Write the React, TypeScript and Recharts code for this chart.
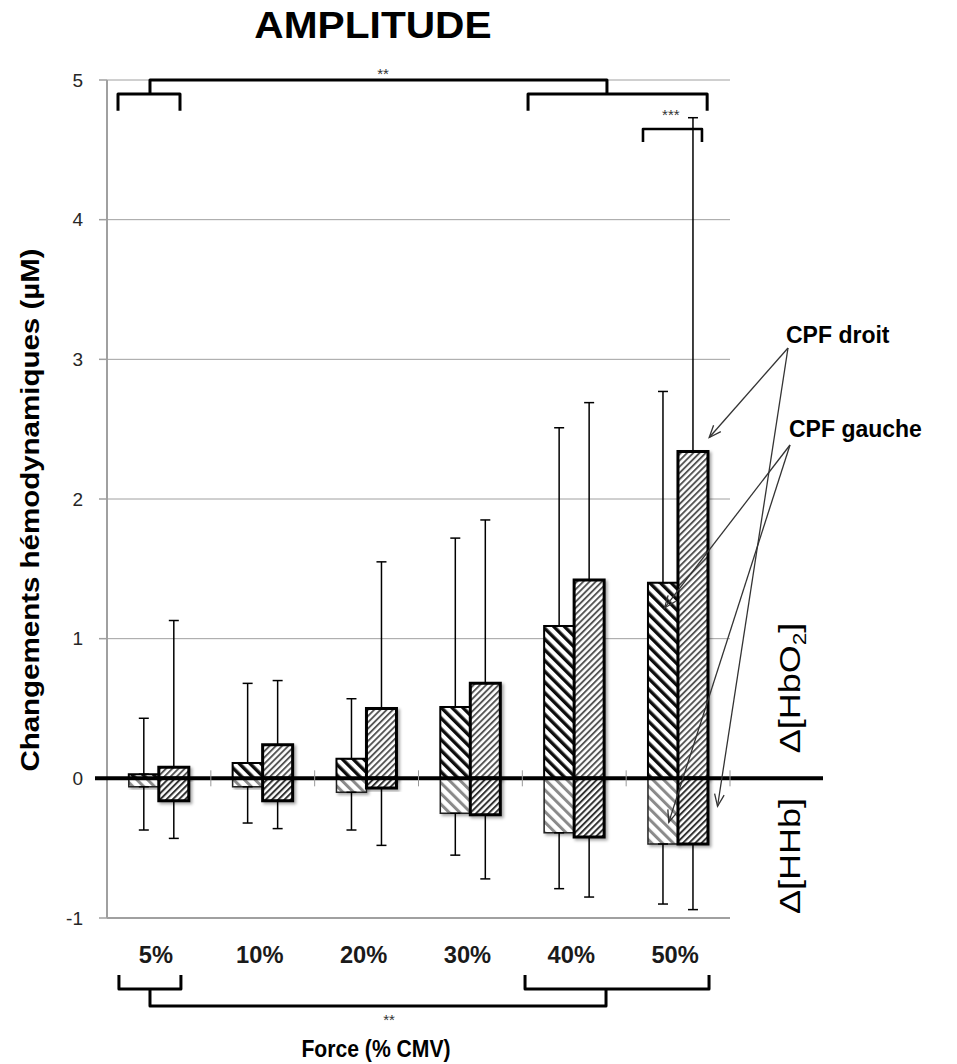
import React from 'react';
import { BarChart, Bar, XAxis, YAxis, CartesianGrid, ErrorBar } from 'recharts';

// ---------- data ----------
const categories = ['5%', '10%', '20%', '30%', '40%', '50%'];
const gaucheHbO2 = [0.03, 0.11, 0.14, 0.51, 1.09, 1.40];
const gaucheHHb = [-0.06, -0.06, -0.10, -0.25, -0.39, -0.47];
const droitHbO2 = [0.08, 0.24, 0.50, 0.68, 1.42, 2.34];
const droitHHb = [-0.16, -0.16, -0.07, -0.26, -0.42, -0.47];
const gaucheUpper = [0.43, 0.68, 0.57, 1.72, 2.51, 2.77];
const gaucheLower = [-0.37, -0.32, -0.37, -0.55, -0.79, -0.90];
const droitUpper = [1.13, 0.70, 1.55, 1.85, 2.69, 4.73];
const droitLower = [-0.43, -0.36, -0.48, -0.72, -0.85, -0.94];
const yTicks = [-1, 0, 1, 2, 3, 4, 5];
const Y_MIN = -1;
const Y_MAX = 5;

const data = categories.map((cat, i) => ({
  cat,
  gH: gaucheHbO2[i],
  gL: gaucheHHb[i],
  dH: droitHbO2[i],
  dL: droitHHb[i],
  gHErr: [0, gaucheUpper[i] - gaucheHbO2[i]],
  gLErr: [gaucheHHb[i] - gaucheLower[i], 0],
  dHErr: [0, droitUpper[i] - droitHbO2[i]],
  dLErr: [droitHHb[i] - droitLower[i], 0],
}));

// ---------- layout ----------
const W = 957;
const H = 1064;
const MARGIN = { top: 80, right: 227, bottom: 116, left: 0 };
const YW = 107;
const XH = 30;
const PL = MARGIN.left + YW;
const PR = W - MARGIN.right;
const PT = MARGIN.top;
const PB = H - MARGIN.bottom - XH;
const FONT = "'Liberation Sans', Arial, sans-serif";

const bx = (f: number) => PL + (f * (PR - PL)) / categories.length;
const vy = (v: number) => PT + ((Y_MAX - v) / (Y_MAX - Y_MIN)) * (PB - PT);

function SText(props: any) {
  const { x, y, size, weight = 'normal', sx = 1, anchor = 'middle', rot = 0, fill = '#000', dy, children } = props;
  return (
    <text
      transform={`translate(${x},${y}) rotate(${rot}) scale(${sx},1)`}
      fontSize={size}
      fontWeight={weight}
      textAnchor={anchor}
      fill={fill}
      fontFamily={FONT}
      dy={dy}
    >
      {children}
    </text>
  );
}

function Arrow({ x1, y1, x2, y2 }: any) {
  const ang = Math.atan2(y2 - y1, x2 - x1);
  const L = 13;
  const a = 0.38;
  const p1 = `${x2 - L * Math.cos(ang - a)},${y2 - L * Math.sin(ang - a)}`;
  const p2 = `${x2 - L * Math.cos(ang + a)},${y2 - L * Math.sin(ang + a)}`;
  return (
    <g stroke="#333" strokeWidth={1.3} fill="none">
      <line x1={x1} y1={y1} x2={x2} y2={y2} />
      <polyline points={`${p1} ${x2},${y2} ${p2}`} />
    </g>
  );
}

function Patterns() {
  return (
    <defs>
      <pattern id="pG" patternUnits="userSpaceOnUse" width="7.6" height="7.6" patternTransform="rotate(-45)">
        <rect width="7.6" height="7.6" fill="#fff" />
        <rect x="0" y="0" width="3.4" height="7.6" fill="#111" />
      </pattern>
      <pattern id="pGl" patternUnits="userSpaceOnUse" width="7.6" height="7.6" patternTransform="rotate(-45)">
        <rect width="7.6" height="7.6" fill="#fff" />
        <rect x="0" y="0" width="3" height="7.6" fill="#8a8a8a" />
      </pattern>
      <pattern id="pD" patternUnits="userSpaceOnUse" width="4.4" height="4.4" patternTransform="rotate(45)">
        <rect width="4.4" height="4.4" fill="#fff" />
        <rect x="0" y="0" width="1.9" height="4.4" fill="#555" />
      </pattern>
      <pattern id="pDl" patternUnits="userSpaceOnUse" width="4.4" height="4.4" patternTransform="rotate(45)">
        <rect width="4.4" height="4.4" fill="#fff" />
        <rect x="0" y="0" width="2" height="4.4" fill="#333" />
      </pattern>
      <filter id="shadow" x="-20%" y="-20%" width="150%" height="150%">
        <feDropShadow dx="2" dy="2" stdDeviation="1.6" floodColor="#000" floodOpacity="0.35" />
      </filter>
    </defs>
  );
}

function Annotations() {
  const yb1 = PB + 57;
  const yb2 = PB + 71;
  const yb3 = PB + 88;
  const droitO = { x: 788, y: 348 };
  const gaucheO = { x: 790, y: 445 };
  return (
    <svg width={W} height={H} style={{ position: 'absolute', left: 0, top: 0, pointerEvents: 'none' }}>
      {/* zero line */}
      <line x1={PL - 12} y1={vy(0)} x2={PR + 93} y2={vy(0)} stroke="#000" strokeWidth={4} />
      {categories.map((c, i) => (
        <line key={c} x1={bx(i + 1)} x2={bx(i + 1)} y1={vy(0) - 8} y2={vy(0) + 8} stroke="#999" strokeWidth={1} />
      ))}

      {/* top brackets */}
      <g stroke="#000" strokeWidth={3} fill="none" strokeLinejoin="round">
        <path d={`M${bx(0.106)},${vy(4.78)} V${vy(4.9)} H${bx(0.703)} V${vy(4.78)}`} />
        <path d={`M${bx(4.055)},${vy(4.78)} V${vy(4.9)} H${bx(5.78)} V${vy(4.78)}`} />
        <path d={`M${bx(0.414)},${vy(4.9)} V${vy(5)} H${bx(4.815)} V${vy(4.9)}`} />
        <path strokeWidth={2.6} d={`M${bx(5.162)},${vy(4.556)} V${vy(4.649)} H${bx(5.73)} V${vy(4.556)}`} />
      </g>
      <SText x={383} y={79} size={15} fill="#333">**</SText>
      <SText x={bx(5.43)} y={120} size={15} fill="#333">***</SText>

      {/* bottom brackets */}
      <g stroke="#000" strokeWidth={3} fill="none" strokeLinejoin="round">
        <path d={`M${bx(0.115)},${yb1} V${yb2} H${bx(0.712)} V${yb1}`} />
        <path d={`M${bx(4.026)},${yb1} V${yb2} H${bx(5.798)} V${yb1}`} />
        <path d={`M${bx(0.414)},${yb2} V${yb3} H${bx(4.806)} V${yb2}`} />
      </g>
      <SText x={389} y={1025} size={15} fill="#333">**</SText>

      {/* titles */}
      <SText x={373} y={38} size={36} weight="bold" sx={1.13}>AMPLITUDE</SText>
      <SText x={376} y={1057} size={23.5} weight="bold" sx={0.9}>Force (% CMV)</SText>
      <SText x={30} y={510} size={25} weight="bold" sx={1.18} rot={-90} dy="0.35em">
        Changements hémodynamiques (µM)
      </SText>

      {/* right labels */}
      <SText x={786} y={343} size={23} weight="bold" anchor="start">CPF droit</SText>
      <SText x={789} y={437} size={23} weight="bold" anchor="start">CPF gauche</SText>
      <SText x={789} y={688} size={30} sx={1.2} rot={-90} dy="0.35em">
        Δ[HbO<tspan fontSize={19} dy="6">2</tspan><tspan dy="-6">]</tspan>
      </SText>
      <SText x={789} y={856} size={30} sx={1.2} rot={-90} dy="0.35em">Δ[HHb]</SText>

      {/* arrows */}
      <Arrow x1={droitO.x} y1={droitO.y} x2={bx(5.8)} y2={vy(2.44)} />
      <Arrow x1={droitO.x} y1={droitO.y} x2={bx(5.88)} y2={vy(-0.2)} />
      <Arrow x1={gaucheO.x} y1={gaucheO.y} x2={bx(5.37)} y2={vy(1.22)} />
      <Arrow x1={gaucheO.x} y1={gaucheO.y} x2={bx(5.41)} y2={vy(-0.315)} />
    </svg>
  );
}

const XTick = (props: any) => {
  const { x, y, payload } = props;
  return (
    <SText x={x - 3} y={y + 45} size={23} weight="bold" sx={1.03} fill="#1a1a1a">
      {payload.value}
    </SText>
  );
};

export default function App() {
  return (
    <div style={{ position: 'absolute', left: 0, top: 0, width: W, height: H, background: '#fff' }}>
      <BarChart
        width={W}
        height={H}
        data={data}
        margin={MARGIN}
        stackOffset="sign"
        barGap={0}
        barCategoryGap="21%"
      >
        <Patterns />
        <CartesianGrid vertical={false} stroke="#a0a0a0" strokeWidth={1} />
        <XAxis
          dataKey="cat"
          height={XH}
          axisLine={{ stroke: '#a0a0a0', strokeWidth: 2 }}
          tickLine={false}
          tickSize={0}
          tickMargin={0}
          tick={<XTick />}
          interval={0}
        />
        <YAxis
          width={YW}
          domain={[Y_MIN, Y_MAX]}
          ticks={yTicks}
          interval={0}
          axisLine={{ stroke: '#a0a0a0', strokeWidth: 2 }}
          tickLine={{ stroke: '#a0a0a0', strokeWidth: 1.5 }}
          tickSize={8}
          tickMargin={16}
          tick={{ fontSize: 19, fill: '#262626', fontFamily: FONT }}
        />
        <Bar dataKey="gH" stackId="g" fill="url(#pG)" stroke="#000" strokeWidth={2} filter="url(#shadow)" isAnimationActive={false}>
          <ErrorBar dataKey="gHErr" width={5} stroke="#000" strokeWidth={1.5} direction="y" />
        </Bar>
        <Bar dataKey="gL" stackId="g" fill="url(#pGl)" stroke="#222" strokeWidth={1.5} filter="url(#shadow)" isAnimationActive={false}>
          <ErrorBar dataKey="gLErr" width={5} stroke="#000" strokeWidth={1.5} direction="y" />
        </Bar>
        <Bar dataKey="dH" stackId="d" fill="url(#pD)" stroke="#000" strokeWidth={3} filter="url(#shadow)" isAnimationActive={false}>
          <ErrorBar dataKey="dHErr" width={5} stroke="#000" strokeWidth={1.5} direction="y" />
        </Bar>
        <Bar dataKey="dL" stackId="d" fill="url(#pDl)" stroke="#000" strokeWidth={3} filter="url(#shadow)" isAnimationActive={false}>
          <ErrorBar dataKey="dLErr" width={5} stroke="#000" strokeWidth={1.5} direction="y" />
        </Bar>
      </BarChart>
      <Annotations />
    </div>
  );
}
